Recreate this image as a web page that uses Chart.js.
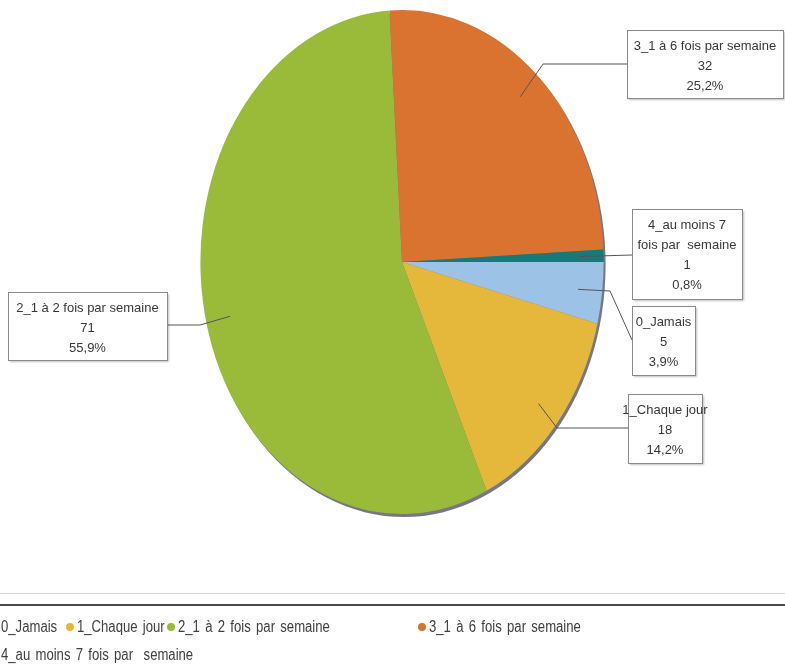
<!DOCTYPE html>
<html>
<head>
<meta charset="utf-8">
<script src="https://cdn.jsdelivr.net/npm/chart.js@4.4.0/dist/chart.umd.min.js"></script>
<style>
  body { margin: 0; background: #fff; width: 785px; height: 670px; overflow: hidden; position: relative; }
  #zone { position: absolute; left: 0; top: 0; }
  .ligne1 { position: absolute; left: 0; top: 593px; width: 785px; height: 1px; background: #d4d4d4; }
  .ligne2 { position: absolute; left: 0; top: 604px; width: 785px; height: 2px; background: #4a4a4a; }
  #legende { position: absolute; left: 0; top: 0; width: 785px; height: 670px;
    font-family: "Liberation Sans", Arial, sans-serif; font-size: 16px; color: #404040; }
  .puce { position: absolute; width: 8px; height: 8px; border-radius: 50%; }
  .texte { position: absolute; white-space: pre; transform: scaleX(0.82); transform-origin: left center;
    word-spacing: 2px; line-height: 18px; }
</style>
</head>
<body>
<canvas id="zone" width="785" height="590"></canvas>
<div class="ligne1"></div>
<div class="ligne2"></div>
<div id="legende"></div>

<script>
// données
const categories = ['0_Jamais', '1_Chaque jour', '2_1 à 2 fois par semaine', '3_1 à 6 fois par semaine', '4_au moins 7 fois par  semaine'];
const effectifs = [5, 18, 71, 32, 1];
const couleurs = ['#9cc2e5', '#e5b83b', '#9aba3a', '#d9732f', '#177a78'];

// texte des étiquettes (le libellé 4 est coupé sur deux lignes)
const libellesEtiquettes = [['0_Jamais'], ['1_Chaque jour'], ['2_1 à 2 fois par semaine'], ['3_1 à 6 fois par semaine'], ['4_au moins 7', 'fois par  semaine']];

// position des cadres et du coude des traits de rappel
const cadres = [
  { x: 632, y: 306, w: 63, h: 69, coude: [610, 291], fin: [632, 340] },
  { x: 628, y: 394, w: 74, h: 69, coude: [557, 428], fin: [628, 428] },
  { x: 8, y: 292, w: 159, h: 68, coude: [200, 325], fin: [167, 325] },
  { x: 627, y: 30, w: 156, h: 68, coude: [543, 64], fin: [627, 64] },
  { x: 632, y: 209, w: 110, h: 90, coude: null, fin: [632, 255] }
];

// position des entrées de la légende (début du texte, milieu de ligne)
const placesLegende = [[1, 627], [77, 627], [178, 627], [429, 627], [1, 655]];

const aplati = 0.8; // le camembert est une ellipse (vue en perspective)
const total = effectifs.reduce((a, b) => a + b, 0);
const pourcent = (v) => (v / total * 100).toFixed(1).replace('.', ',') + '%';
const police = '13px "Liberation Sans", Arial, sans-serif';

// écrase le camembert horizontalement et dessine le liseré gris
const ellipse = {
  id: 'ellipse',
  beforeDatasetsDraw(chart) {
    const ctx = chart.ctx;
    const arc = chart.getDatasetMeta(0).data[0];
    const cx = arc.x, cy = arc.y, r = arc.outerRadius;
    ctx.save();
    ctx.fillStyle = 'rgba(112,112,122,0.95)';
    ctx.beginPath();
    ctx.ellipse(cx + 2, cy + 3, r * aplati, r, 0, 0, Math.PI * 2);
    ctx.fill();
    ctx.restore();
    ctx.save();
    ctx.translate(cx, cy);
    ctx.scale(aplati, 1);
    ctx.translate(-cx, -cy);
  },
  afterDatasetsDraw(chart) {
    chart.ctx.restore();
  }
};

// cadres d'étiquettes avec traits de rappel
const etiquettes = {
  id: 'etiquettes',
  afterDraw(chart) {
    const ctx = chart.ctx;
    const arcs = chart.getDatasetMeta(0).data;
    arcs.forEach((arc, i) => {
      const mil = (arc.startAngle + arc.endAngle) / 2;
      const ax = arc.x + Math.cos(mil) * arc.outerRadius * 0.88 * aplati;
      const ay = arc.y + Math.sin(mil) * arc.outerRadius * 0.88;
      const c = cadres[i];

      ctx.save();
      ctx.strokeStyle = '#555';
      ctx.lineWidth = 1;
      ctx.beginPath();
      ctx.moveTo(ax, ay);
      if (c.coude) ctx.lineTo(c.coude[0], c.coude[1]);
      ctx.lineTo(c.fin[0], c.fin[1]);
      ctx.stroke();

      ctx.shadowColor = 'rgba(0,0,0,0.25)';
      ctx.shadowOffsetX = 2;
      ctx.shadowOffsetY = 2;
      ctx.shadowBlur = 2;
      ctx.fillStyle = '#fff';
      ctx.fillRect(c.x, c.y, c.w, c.h);
      ctx.shadowColor = 'transparent';
      ctx.strokeStyle = '#8a8a8a';
      ctx.strokeRect(c.x + 0.5, c.y + 0.5, c.w, c.h);

      const lignes = libellesEtiquettes[i].concat([String(effectifs[i]), pourcent(effectifs[i])]);
      ctx.fillStyle = '#383838';
      ctx.font = police;
      ctx.textAlign = 'center';
      ctx.textBaseline = 'middle';
      lignes.forEach((t, k) => {
        ctx.fillText(t, c.x + c.w / 2, c.y + 16 + k * 20);
      });
      ctx.restore();
    });
  }
};

new Chart(document.getElementById('zone'), {
  type: 'pie',
  data: {
    labels: categories,
    datasets: [{
      data: effectifs,
      backgroundColor: couleurs,
      borderWidth: 0,
      hoverOffset: 0
    }]
  },
  options: {
    responsive: false,
    animation: false,
    rotation: 90,
    layout: { padding: { left: 150, right: 131, top: 10, bottom: 76 } },
    plugins: {
      legend: { display: false },
      tooltip: { enabled: false }
    }
  },
  plugins: [ellipse, etiquettes]
});

// légende en bas
const legende = document.getElementById('legende');
categories.forEach((nom, i) => {
  const [x, y] = placesLegende[i];
  const puce = document.createElement('span');
  puce.className = 'puce';
  puce.style.background = couleurs[i];
  puce.style.left = (x - 11) + 'px';
  puce.style.top = (y - 4) + 'px';
  const texte = document.createElement('span');
  texte.className = 'texte';
  texte.textContent = nom;
  texte.style.left = x + 'px';
  texte.style.top = (y - 9) + 'px';
  legende.appendChild(puce);
  legende.appendChild(texte);
});
</script>
</body>
</html>
